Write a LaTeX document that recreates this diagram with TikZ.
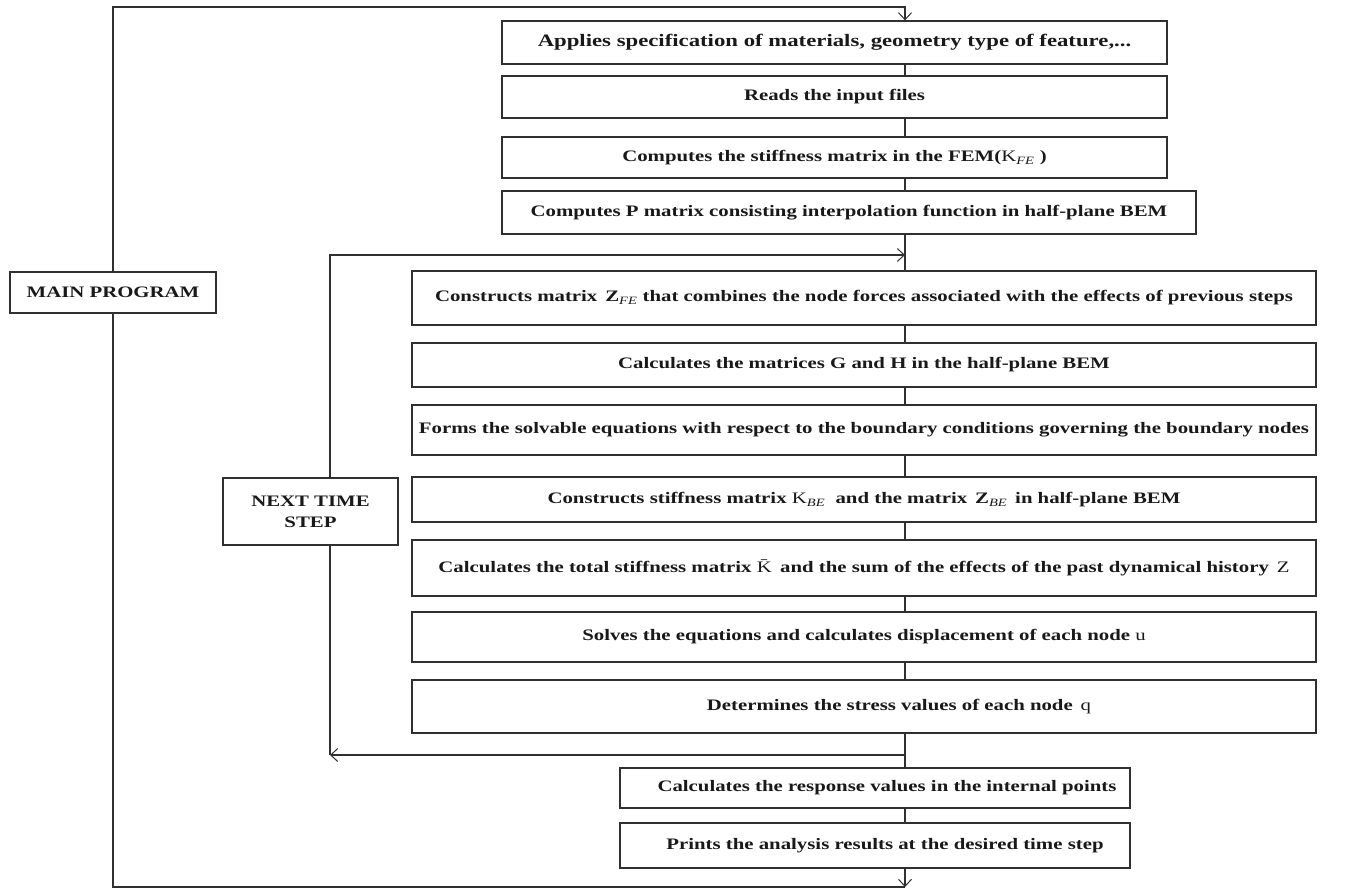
\documentclass[tikz,border=0pt]{standalone}
\usepackage{fontspec}
\setmainfont{Liberation Serif}[FakeStretch=1.3]
\usetikzlibrary{arrows.meta}
\definecolor{ln}{HTML}{303030}
\begin{document}
\begin{tikzpicture}[x=1pt,y=-1pt,
  box/.style={draw=ln,line width=1.2pt,inner sep=0pt,align=center,text=black!90,font=\fontsize{16}{21}\selectfont\bfseries},
  con/.style={draw=ln,line width=1.2pt},
  arr/.style={con,-{Straight Barb[length=7pt,width=13pt,line width=1pt]}}]
\useasboundingbox (0,0) rectangle (1349,893);
\node[box,minimum width=665pt,minimum height=43pt,font=\fontsize{17.5}{21}\selectfont\bfseries] (b1) at (834.5,42.5) {Applies specification of materials, geometry type of feature,...};
\node[box,minimum width=665pt,minimum height=42pt] (b2) at (834.5,97) {Reads the input files};
\node[box,minimum width=665pt,minimum height=41pt] (b3) at (834.5,157.5) {Computes the stiffness matrix in the FEM(\textmd{K}\textsubscript{\textmd{\textit{FE}}} )};
\node[box,minimum width=694pt,minimum height=43pt] (b4) at (849,212.5) {Computes P matrix consisting interpolation function in half-plane BEM};
\node[box,minimum width=904pt,minimum height=54pt] (b5) at (864,298) {Constructs matrix \,Z\textsubscript{\textmd{\textit{FE}}} that combines the node forces associated with the effects of previous steps};
\node[box,minimum width=904pt,minimum height=44pt] (b6) at (864,365) {Calculates the matrices G and H in the half-plane BEM};
\node[box,minimum width=904pt,minimum height=50pt] (b7) at (864,430) {Forms the solvable equations with respect to the boundary conditions governing the boundary nodes};
\node[box,minimum width=904pt,minimum height=45pt] (b8) at (864,499.5) {Constructs stiffness matrix \textmd{K}\textsubscript{\textmd{\textit{BE}}} \ and the matrix \,Z\textsubscript{\textmd{\textit{BE}}} \,in half-plane BEM};
\node[box,minimum width=904pt,minimum height=56pt] (b9) at (864,568) {Calculates the total stiffness matrix \textmd{\={K}} and the sum of the effects of the past dynamical history \,\textmd{Z}};
\node[box,minimum width=904pt,minimum height=50pt] (b10) at (864,637) {Solves the equations and calculates displacement of each node \textmd{u}};
\node[box,minimum width=904pt,minimum height=53pt] (b11) at (864,706.5) {\hspace*{70pt}Determines the stress values of each node \,\textmd{q}};
\node[box,minimum width=510pt,minimum height=40pt] (b12) at (875,788) {\hspace*{24pt}Calculates the response values in the internal points};
\node[box,minimum width=510pt,minimum height=45pt] (b13) at (875,845.5) {\hspace*{20pt}Prints the analysis results at the desired time step};
\node[box,minimum width=206pt,minimum height=41pt] (main) at (113,292.5) {MAIN PROGRAM};
\node[box,minimum width=175pt,minimum height=67pt] (next) at (310.5,511.5) {NEXT TIME\\STEP};
\coordinate (cx) at (905,0);
\coordinate (tr) at (905,7);
\coordinate (bl) at (113,887);
\coordinate (br) at (905,887);
\coordinate (il) at (330,255);
\coordinate (ir) at (905,255);
\coordinate (jl) at (330,755);
\coordinate (jr) at (905,755);
\draw[arr] (main.north) |- (tr) -- (b1.north -| cx);
\draw[con] (b1.south -| cx) -- (b2.north -| cx);
\draw[con] (b2.south -| cx) -- (b3.north -| cx);
\draw[con] (b3.south -| cx) -- (b4.north -| cx);
\draw[con] (b4.south -| cx) -- (b5.north -| cx);
\draw[con] (b5.south -| cx) -- (b6.north -| cx);
\draw[con] (b6.south -| cx) -- (b7.north -| cx);
\draw[con] (b7.south -| cx) -- (b8.north -| cx);
\draw[con] (b8.south -| cx) -- (b9.north -| cx);
\draw[con] (b9.south -| cx) -- (b10.north -| cx);
\draw[con] (b10.south -| cx) -- (b11.north -| cx);
\draw[con] (jr) -- (b12.north -| cx);
\draw[con] (b12.south -| cx) -- (b13.north -| cx);
\draw[arr] (b11.south -| cx) -- (jr) -- (jl);
\draw[con] (jl) -- (next.south -| jl);
\draw[arr] (next.north -| il) -- (il) -- (ir);
\draw[arr] (b13.south -| cx) -- (br);
\draw[con] (br) -- (bl) -- (main.south);
\end{tikzpicture}
\end{document}
